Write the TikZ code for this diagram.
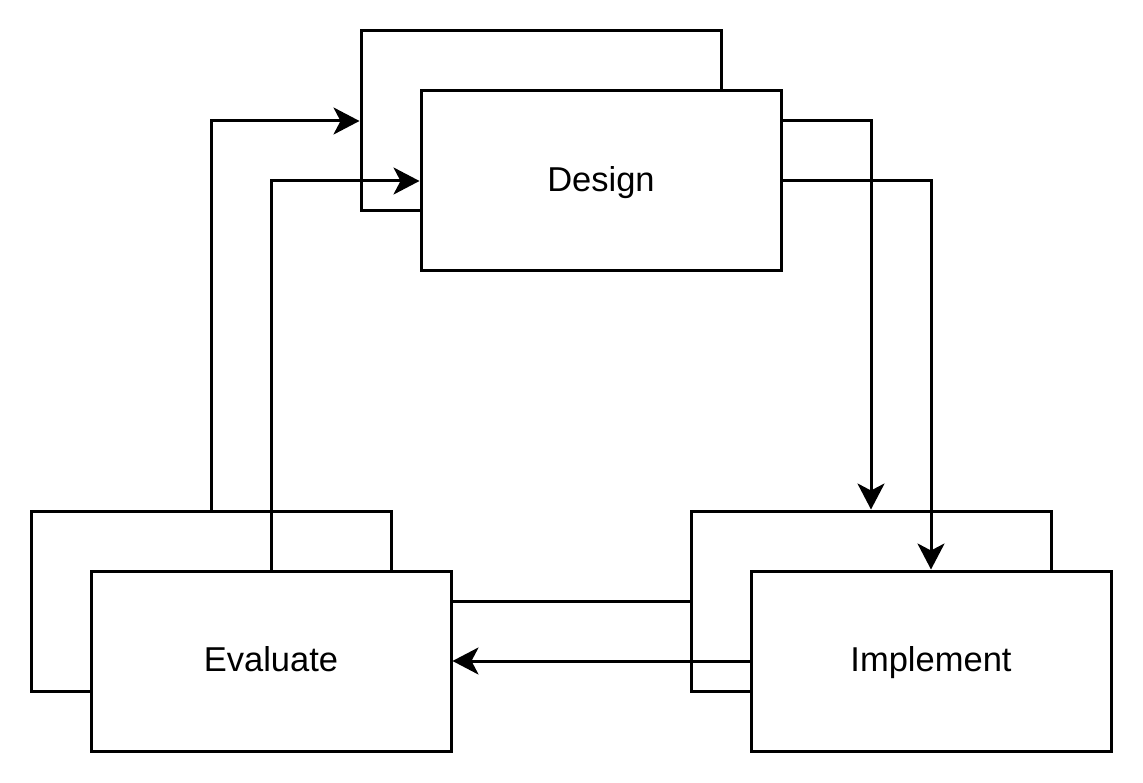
\documentclass[tikz,border=0pt]{standalone}
\usepackage{fontspec}
\setmainfont{Liberation Sans}
\usetikzlibrary{arrows.meta}
\pgfdeclarelayer{back}
\pgfdeclarelayer{front}
\pgfsetlayers{back,main,front}
\begin{document}
\begin{tikzpicture}[x=1pt,y=-1pt,
  box/.style={draw,fill=white,line width=3pt,minimum width=360pt,minimum height=180pt,inner sep=0pt,
    text height=21.4pt,text depth=0pt,font=\fontsize{34.5}{40}\selectfont},
  conn/.style={line width=3pt,-{Stealth[length=26pt,width=27pt,inset=7pt]}},
  plain/.style={line width=3pt}]
\useasboundingbox (0,0) rectangle (1143,783);
% back boxes
\begin{pgfonlayer}{back}
\node[box] (db) at (541,121) {};
\node[box] (eb) at (211,601) {};
\node[box] (ib) at (871,601) {};
\end{pgfonlayer}
% front boxes
\begin{pgfonlayer}{front}
\node[box] (df) at (601,181) {Design};
\node[box] (ef) at (271,661) {Evaluate};
\node[box] (imf) at (931,661) {Implement};
\end{pgfonlayer}
% connectors
\draw[conn] (eb.north) |- (db.west);
\draw[conn] (db.east |- db.west) -| (ib.north);
\draw[plain] (ib.west) -- (eb.east);
\draw[conn] (ef.north) |- (df.west);
\draw[conn] (df.east) -| (imf.north);
\draw[conn] (imf.west) -- (ef.east);
\end{tikzpicture}
\end{document}
